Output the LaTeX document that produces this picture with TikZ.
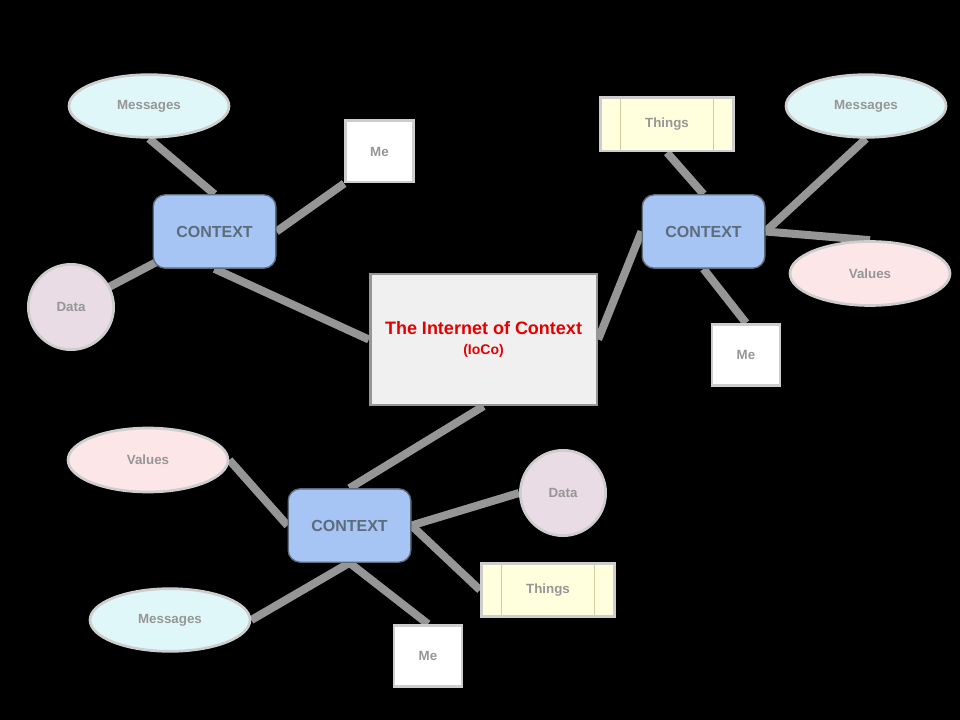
\documentclass[tikz,border=0pt]{standalone}
\usepackage{fontspec}
\setmainfont{Liberation Sans}
\usetikzlibrary{shapes.geometric,backgrounds}

\definecolor{ctxfill}{RGB}{166,196,244}
\definecolor{ctxtext}{RGB}{92,108,122}
\definecolor{msgfill}{RGB}{224,247,250}
\definecolor{valfill}{RGB}{252,230,232}
\definecolor{datfill}{RGB}{234,220,228}
\definecolor{thgfill}{RGB}{255,255,221}
\definecolor{thgline}{RGB}{205,205,160}
\definecolor{labgray}{RGB}{150,150,150}
\definecolor{rimgray}{RGB}{205,205,205}
\definecolor{linkgray}{RGB}{150,150,150}

\tikzset{
	context/.style={draw=ctxtext,line width=1pt,rounded corners=9pt,fill=ctxfill,minimum width=92pt,minimum height=55pt,font=\bfseries\fontsize{12}{14}\selectfont,text=ctxtext},
	leaf/.style={draw=rimgray,line width=2pt,font=\bfseries\fontsize{10}{12}\selectfont,text=labgray},
	messages/.style={leaf,ellipse,fill=msgfill,minimum width=120pt,minimum height=47pt},
	values/.style={leaf,ellipse,fill=valfill,minimum width=120pt,minimum height=48pt},
	data/.style={leaf,circle,fill=datfill,minimum size=64pt},
	me/.style={leaf,rectangle,fill=white,minimum width=51pt,minimum height=46pt},
	things/.style={leaf,rectangle,fill=thgfill,minimum width=100pt,minimum height=40pt,
		path picture={\draw[thgline,line width=0.6pt]
			([xshift=15pt]path picture bounding box.north west) -- ([xshift=15pt]path picture bounding box.south west)
			([xshift=-15pt]path picture bounding box.north east) -- ([xshift=-15pt]path picture bounding box.south east);}},
	link/.style={draw=linkgray,line width=6pt}
}

\begin{document}
\begin{tikzpicture}[x=0.75pt,y=-0.75pt]
	\useasboundingbox (0,0) rectangle (960,720);

	% centre
	\node[draw=labgray,line width=2pt,fill=black!6,minimum width=170pt,minimum height=98pt,align=center,text=red!90!black] (ioco) at (483.5,339.5)
		{{\bfseries\fontsize{13.5}{16}\selectfont The Internet of Context}\\[3pt]{\bfseries\fontsize{10.5}{12}\selectfont (IoCo)}};

	% top left
	\node[context] (ctxA) at (214.5,231.5) {CONTEXT};
	\node[messages] (msgA) at (149,106) {Messages};
	\node[me] (meA) at (379.5,151.5) {Me};
	\node[data] (datA) at (71,307) {Data};

	% top right
	\node[context] (ctxB) at (703.5,231.5) {CONTEXT};
	\node[things] (thgB) at (667,124.5) {Things};
	\node[messages] (msgB) at (866,106) {Messages};
	\node[values] (valB) at (870,273.5) {Values};
	\node[me] (meB) at (746,355) {Me};

	% bottom
	\node[context] (ctxC) at (349.5,525.5) {CONTEXT};
	\node[values] (valC) at (148,460) {Values};
	\node[data] (datC) at (563,493) {Data};
	\node[things] (thgC) at (548,590) {Things};
	\node[messages] (msgC) at (170,620) {Messages};
	\node[me] (meC) at (428,656) {Me};

	\begin{scope}[on background layer]
		\fill[black] (0,0) rectangle (960,720);
		\path[link] (ctxA.south) -- (ioco.west);
		\path[link] (ctxA.north) -- (msgA.south);
		\path[link] (ctxA.east) -- (meA.south west);
		\path[link] (ctxA.center) -- (datA.center);
		\path[link] (ioco.east) -- (ctxB.west);
		\path[link] (ctxB.north) -- (thgB.south);
		\path[link] (ctxB.east) -- (msgB.south);
		\path[link] (ctxB.east) -- (valB.north);
		\path[link] (ctxB.south) -- (meB.north);
		\path[link] (ioco.south) -- (ctxC.north);
		\path[link] (ctxC.west) -- (valC.east);
		\path[link] (ctxC.east) -- (datC.west);
		\path[link] (ctxC.east) -- (thgC.west);
		\path[link] (ctxC.south) -- (msgC.east);
		\path[link] (ctxC.south) -- (meC.north);
	\end{scope}
\end{tikzpicture}
\end{document}
